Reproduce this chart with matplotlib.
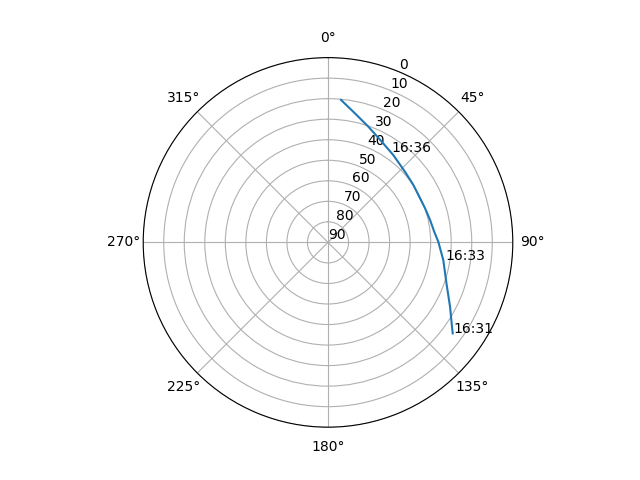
import numpy as np
import matplotlib
matplotlib.use("Agg")
import matplotlib.pyplot as plt

# satellite track (azimuth deg, elevation deg)
az = [126.1, 124.2, 117.8, 109.7, 98.7, 89.6, 84.3, 77.6, 70.6, 62.3,
      56.1, 47.4, 36.8, 28.1, 19.2, 11.8, 5.2]
el = [14.8, 17.0, 22.8, 28.6, 33.2, 36.3, 38.0, 39.1, 39.9, 40.3,
      39.9, 39.1, 36.9, 34.4, 30.3, 25.8, 20.3]

# time labels
label_txt = ["16:31", "16:33", "16:36"]
label_az = [125.8, 98.6, 35.1]
label_el = [14.8, 32.4, 36.0]

fig = plt.figure()
ax = fig.add_subplot(111, projection="polar")
ax.set_theta_zero_location("N")
ax.set_theta_direction(-1)

ax.plot(np.radians(az), el)
for t, a, e in zip(label_txt, label_az, label_el):
    ax.text(np.radians(a), e, t)

ax.set_rlim(90, 0)
ax.set_rticks(range(0, 91, 10))

plt.savefig("out.png")
